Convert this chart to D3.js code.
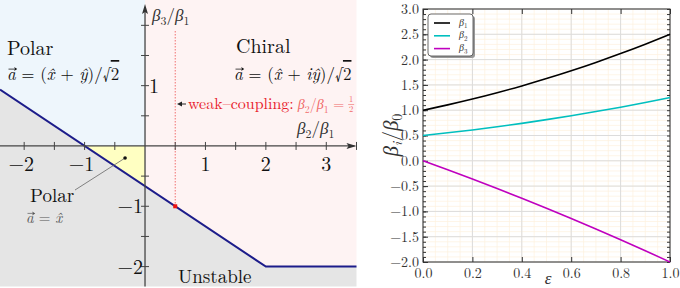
<!DOCTYPE html>
<html>
<head>
<meta charset="utf-8">
<script src="https://cdn.jsdelivr.net/npm/d3@7"></script>
<style>
  body { margin: 0; background: #fff; }
  svg text { font-family: "Latin Modern Roman", "Liberation Serif", serif; }
</style>
</head>
<body>
<div id="chart"></div>
<script>
// ---- left panel: phase diagram ----
const boundaryX = [-2.4, 2, 3.5];
const boundaryY = [0.9333, -2, -2];
const xTickVals = [-2, -1, 1, 2, 3];
const yTickVals = [1, -1, -2];
const weakCoupling = [0.5, -1];
const polarDot = [-0.33, -0.2];

// ---- right panel: couplings vs epsilon ----
const eps = [0, 0.1, 0.2, 0.3, 0.4, 0.5, 0.6, 0.7, 0.8, 0.9, 1.0];
const beta1 = [1.0, 1.105, 1.22, 1.345, 1.48, 1.625, 1.78, 1.945, 2.12, 2.305, 2.5];
const beta2 = [0.5, 0.553, 0.61, 0.673, 0.74, 0.813, 0.89, 0.973, 1.06, 1.153, 1.25];
const beta3 = [0, -0.1775, -0.36, -0.5475, -0.74, -0.9375, -1.14, -1.3475, -1.56, -1.7775, -2.0];
const seriesNames = ["1", "2", "3"];
const seriesColors = ["#000000", "#00bfbf", "#bf00bf"];

const W = 680, H = 288;
const serif = "'Latin Modern Roman', 'Liberation Serif', serif";
const svg = d3.select("#chart").append("svg").attr("width", W).attr("height", H);

// left
const x = d3.scaleLinear().domain([-2.4, 3.5]).range([0, 356.5]);
const y = d3.scaleLinear().domain([2.42, -2.33]).range([0, 286.5]);
const L = svg.append("g");
const x0 = x.domain()[0], x1 = x.domain()[1], yTop = y.domain()[0], yBot = y.domain()[1];
const poly = pts => pts.map(p => [x(p[0]), y(p[1])].join(",")).join(" ");

L.append("polygon").attr("fill", "#eef6fc")
  .attr("points", poly([[x0, yTop], [0, yTop], [0, 0], [-1, 0], [boundaryX[0], boundaryY[0]]]));
L.append("polygon").attr("fill", "#fef3f3")
  .attr("points", poly([[0, yTop], [x1, yTop], [boundaryX[2], boundaryY[2]], [boundaryX[1], boundaryY[1]], [0, -2 / 3]]));
L.append("polygon").attr("fill", "#ffffc2")
  .attr("points", poly([[-1, 0], [0, 0], [0, -2 / 3]]));
L.append("polygon").attr("fill", "#e5e5e5")
  .attr("points", poly([[boundaryX[0], boundaryY[0]], [boundaryX[1], boundaryY[1]], [boundaryX[2], boundaryY[2]], [x1, yBot], [x0, yBot]]));

// weak coupling dotted line
L.append("line").attr("x1", x(weakCoupling[0])).attr("x2", x(weakCoupling[0]))
  .attr("y1", 31).attr("y2", y(weakCoupling[1]))
  .attr("stroke", "#f07070").attr("stroke-width", 1).attr("stroke-dasharray", "1.5,1.5");

// boundary
L.append("path")
  .attr("d", d3.line()(boundaryX.map((v, i) => [x(v), y(boundaryY[i])])))
  .attr("fill", "none").attr("stroke", "#1c1c8a").attr("stroke-width", 2);

L.append("rect").attr("x", x(weakCoupling[0]) - 2).attr("y", y(weakCoupling[1]) - 2)
  .attr("width", 4).attr("height", 4).attr("fill", "#ee1111");

// axes
const axCol = "#444";
L.append("line").attr("x1", 0).attr("x2", x(x1) - 2).attr("y1", y(0)).attr("y2", y(0))
  .attr("stroke", axCol).attr("stroke-width", 1.3);
L.append("line").attr("x1", x(0)).attr("x2", x(0)).attr("y1", y(yBot)).attr("y2", 7)
  .attr("stroke", axCol).attr("stroke-width", 1.3);
L.append("path").attr("d", `M${x(x1)},${y(0)} l-10,-3 l2,3 l-2,3 z`).attr("fill", "#333");
L.append("path").attr("d", `M${x(0)},4 l-3,10 l3,-2 l3,2 z`).attr("fill", "#333");

d3.range(-2, 3.51, 0.5).filter(v => v !== 0).forEach(v => {
  L.append("line").attr("x1", x(v)).attr("x2", x(v)).attr("y1", y(0) - 4).attr("y2", y(0) + 4)
    .attr("stroke", axCol).attr("stroke-width", 1);
});
d3.range(-2, 2.01, 0.5).filter(v => v !== 0).forEach(v => {
  L.append("line").attr("x1", x(0) - 4).attr("x2", x(0) + 4).attr("y1", y(v)).attr("y2", y(v))
    .attr("stroke", axCol).attr("stroke-width", 1);
});
const fmtL = d3.format("d");
xTickVals.forEach(v => {
  L.append("text").attr("x", x(v) + (v < 0 ? -3 : 0)).attr("y", y(0) + 25)
    .attr("text-anchor", "middle").style("font-size", "20px").attr("fill", "#111").text(fmtL(v));
});
yTickVals.forEach(v => {
  L.append("text").attr("x", v > 0 ? x(0) + 4 : x(0) - 2).attr("y", y(v) + 7)
    .attr("text-anchor", v > 0 ? "start" : "end").style("font-size", "20px").attr("fill", "#111").text(fmtL(v));
});

// rich text helper; {vec:true} draws an arrow above the first glyph
function rich(g, px, py, size, parts, color) {
  const t = g.append("text").attr("x", px).attr("y", py).style("font-size", size + "px")
    .attr("fill", color || "#111");
  let vec = false;
  parts.forEach(p => {
    const s = typeof p === "string" ? { t: p } : p;
    const ts = t.append("tspan").text(s.t);
    if (s.i) ts.style("font-style", "italic");
    if (s.sub) ts.style("font-size", (size * 0.7) + "px").attr("dy", size * 0.25);
    if (s.up) ts.attr("dy", -size * 0.25);
    if (s.c) ts.attr("fill", s.c);
    if (s.o) ts.style("text-decoration", "overline");
    if (s.vec) vec = true;
  });
  if (vec) {
    const w = t.node().getSubStringLength(0, 1);
    const ay = py - size * 0.64, ax0 = px + 1.5, ax1 = px + w + 1.5;
    g.append("line").attr("x1", ax0).attr("x2", ax1 - 1).attr("y1", ay).attr("y2", ay)
      .attr("stroke", color || "#111").attr("stroke-width", size * 0.045);
    g.append("path").attr("d", `M${ax1},${ay} l-3,-2 l0.8,2 l-0.8,2 z`).attr("fill", color || "#111");
  }
  return t;
}
const vecA = { t: "a", i: true, vec: true };

rich(L, 7, 55, 20, ["Polar"]);
rich(L, 7, 80, 17, [vecA, " = (", { t: "x\u0302", i: true }, " + ", { t: "y\u0302", i: true }, ")/\u221A", { t: "2", o: true }]);
rich(L, 236, 53, 20, ["Chiral"]);
rich(L, 234, 80, 17, [vecA, " = (", { t: "x\u0302", i: true }, " + ", { t: "i", i: true }, { t: "y\u0302", i: true }, ")/\u221A", { t: "2", o: true }]);
rich(L, 30, 202, 19, ["Polar"]);
rich(L, 26, 223, 15, [vecA, " = ", { t: "x\u0302", i: true }], "#555");
rich(L, 178, 283, 19, ["Unstable"]);
rich(L, 152, 21, 17, [{ t: "\u03B2", i: true }, { t: "3", sub: true }, { t: "/", up: true }, { t: "\u03B2", i: true }, { t: "1", sub: true }], "#333");
rich(L, 297, 134, 17, [{ t: "\u03B2", i: true }, { t: "2", sub: true }, { t: "/", up: true }, { t: "\u03B2", i: true }, { t: "1", sub: true }], "#333");

// annotation
L.append("line").attr("x1", 186).attr("x2", 180).attr("y1", 104).attr("y2", 104).attr("stroke", "#222").attr("stroke-width", 1);
L.append("path").attr("d", "M177,104 l5,-2.5 l0,5 z").attr("fill", "#222");
const wk = rich(L, 188, 109, 16, ["weak\u2013coupling:"], "#e8202a");
const fx = 188 + wk.node().getComputedTextLength() + 4;
const ft = rich(L, fx, 109, 14, [{ t: "\u03B2", i: true }, { t: "2", sub: true }, { t: "/", up: true }, { t: "\u03B2", i: true }, { t: "1", sub: true }, { t: " =", up: true }], "#f06a6a");
const fr = fx + ft.node().getComputedTextLength() + 4;
L.append("text").attr("x", fr + 3).attr("y", 102).attr("text-anchor", "middle").style("font-size", "8.5px").attr("fill", "#f06a6a").text("1");
L.append("line").attr("x1", fr).attr("x2", fr + 6).attr("y1", 104.5).attr("y2", 104.5).attr("stroke", "#f06a6a").attr("stroke-width", 0.6);
L.append("text").attr("x", fr + 3).attr("y", 112).attr("text-anchor", "middle").style("font-size", "8.5px").attr("fill", "#f06a6a").text("2");

// pointer to Polar dot
L.append("line").attr("x1", 75).attr("y1", 190).attr("x2", x(polarDot[0])).attr("y2", y(polarDot[1]))
  .attr("stroke", "#666").attr("stroke-width", 0.8);
L.append("circle").attr("cx", x(polarDot[0])).attr("cy", y(polarDot[1])).attr("r", 1.8).attr("fill", "#111");

// ---- right panel ----
const pL = 423, pR = 670, pT = 9, pB = 262;
const xs = d3.scaleLinear().domain([0, 1]).range([pL, pR]);
const ys = d3.scaleLinear().domain([-2, 3]).range([pB, pT]);
const R = svg.append("g");

R.append("g").selectAll("line").data(d3.range(0, 1.0001, 0.05)).join("line")
  .attr("x1", d => xs(d)).attr("x2", d => xs(d)).attr("y1", pT).attr("y2", pB)
  .attr("stroke", "#fdf0de").attr("stroke-width", 0.7);
R.append("g").selectAll("line").data(d3.range(-2, 3.0001, 0.1)).join("line")
  .attr("x1", pL).attr("x2", pR).attr("y1", d => ys(d)).attr("y2", d => ys(d))
  .attr("stroke", "#fdf0de").attr("stroke-width", 0.7);
R.append("g").selectAll("line").data(xs.ticks(5)).join("line")
  .attr("x1", d => xs(d)).attr("x2", d => xs(d)).attr("y1", pT).attr("y2", pB)
  .attr("stroke", "#dcdcdc").attr("stroke-width", 1);
R.append("g").selectAll("line").data(d3.range(-2, 3.0001, 0.5)).join("line")
  .attr("x1", pL).attr("x2", pR).attr("y1", d => ys(d)).attr("y2", d => ys(d))
  .attr("stroke", "#dcdcdc").attr("stroke-width", 1);

const fmtR = d3.format(".1f");
R.append("g").attr("transform", `translate(0,${pB})`)
  .call(d3.axisBottom(xs).ticks(5).tickSize(-5).tickPadding(6).tickFormat(fmtR));
R.append("g").attr("transform", `translate(${pL},0)`)
  .call(d3.axisLeft(ys).tickValues(d3.range(-2, 3.0001, 0.5)).tickSize(-5).tickPadding(4).tickFormat(fmtR));
R.append("g").attr("transform", `translate(${pR},0)`)
  .call(d3.axisRight(ys).tickValues(d3.range(-2, 3.0001, 0.1)).tickSize(-3).tickFormat(""));
R.append("g").attr("transform", `translate(${pL},0)`)
  .call(d3.axisLeft(ys).tickValues(d3.range(-2, 3.0001, 0.1)).tickSize(-3).tickFormat(""));
R.append("g").attr("transform", `translate(0,${pT})`)
  .call(d3.axisTop(xs).ticks(5).tickSize(-5).tickFormat(""));
R.selectAll(".domain").remove();
R.selectAll("g").attr("font-family", serif);
R.selectAll(".tick line").attr("stroke", "#333");
R.selectAll(".tick text").attr("font-family", serif).style("font-family", serif)
  .style("font-size", "14px").attr("fill", "#333");
R.append("rect").attr("x", pL).attr("y", pT).attr("width", pR - pL).attr("height", pB - pT)
  .attr("fill", "none").attr("stroke", "#333").attr("stroke-width", 1);

const series = [beta1, beta2, beta3];
const ln = d3.line().curve(d3.curveMonotoneX).x((d, i) => xs(eps[i])).y(d => ys(d));
series.forEach((s, k) => {
  R.append("path").attr("d", ln(s)).attr("fill", "none")
    .attr("stroke", seriesColors[k]).attr("stroke-width", 1.6);
});

// legend
const lg = R.append("g");
lg.append("rect").attr("x", 430).attr("y", 16).attr("width", 45).attr("height", 42).attr("rx", 3)
  .attr("fill", "#999");
lg.append("rect").attr("x", 428).attr("y", 14).attr("width", 45).attr("height", 42).attr("rx", 3)
  .attr("fill", "#fff").attr("stroke", "#444").attr("stroke-width", 0.8);
seriesNames.forEach((n, k) => {
  const yy = 23 + k * 12.8;
  lg.append("line").attr("x1", 434).attr("x2", 450).attr("y1", yy).attr("y2", yy)
    .attr("stroke", seriesColors[k]).attr("stroke-width", 1.6);
  rich(lg, 459, yy + 2.5, 10, [{ t: "\u03B2", i: true }, { t: n, sub: true }], "#333");
});

// axis labels
const yl = R.append("text").attr("transform", "translate(398,135) rotate(-90)")
  .attr("text-anchor", "middle").style("font-size", "21px").attr("fill", "#333");
yl.append("tspan").style("font-style", "italic").text("\u03B2");
yl.append("tspan").style("font-style", "italic").style("font-size", "14px").attr("dy", 4).text("i");
yl.append("tspan").attr("dy", -4).text("/");
yl.append("tspan").style("font-style", "italic").text("\u03B2");
yl.append("tspan").style("font-size", "14px").attr("dy", 4).text("0");
R.append("text").attr("x", 548).attr("y", 284).attr("text-anchor", "middle")
  .style("font-size", "17px").style("font-style", "italic").attr("fill", "#333").text("\u03B5");
</script>
</body>
</html>
